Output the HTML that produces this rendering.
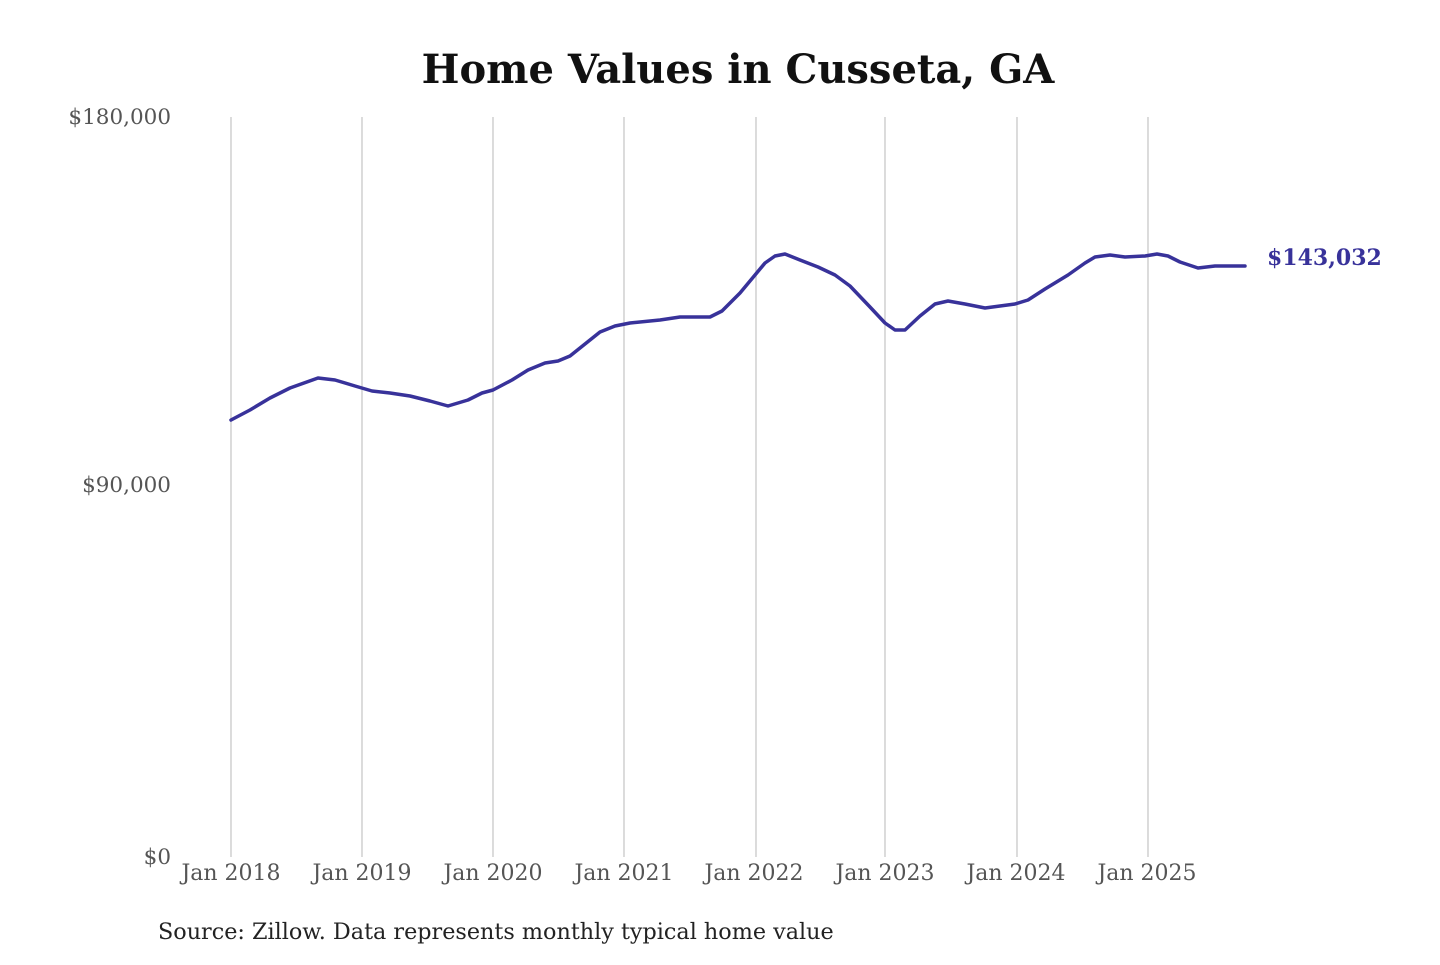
<!DOCTYPE html>
<html><head><meta charset="utf-8"><style>
html,body{margin:0;padding:0;background:#fff;}
svg text{font-family:"DejaVu Serif","Liberation Serif",serif;}
</style></head><body>
<svg width="1440" height="960" xmlns="http://www.w3.org/2000/svg">
<rect width="1440" height="960" fill="#fff"/>
<text x="738" y="83" text-anchor="middle" font-size="40" font-weight="bold" fill="#111">Home Values in Cusseta, GA</text>
<g stroke="#c8c8c8" stroke-width="1.3">
<line x1="231" y1="117" x2="231" y2="857"/>
<line x1="362" y1="117" x2="362" y2="857"/>
<line x1="493" y1="117" x2="493" y2="857"/>
<line x1="624" y1="117" x2="624" y2="857"/>
<line x1="756" y1="117" x2="756" y2="857"/>
<line x1="885" y1="117" x2="885" y2="857"/>
<line x1="1017" y1="117" x2="1017" y2="857"/>
<line x1="1148" y1="117" x2="1148" y2="857"/>
</g>
<g font-size="21.5" fill="#555" text-anchor="end">
<text x="171" y="124">$180,000</text>
<text x="171" y="492">$90,000</text>
<text x="171" y="864">$0</text>
</g>
<g font-size="22" fill="#555" text-anchor="middle">
<text x="231" y="880">Jan 2018</text>
<text x="362" y="880">Jan 2019</text>
<text x="493" y="880">Jan 2020</text>
<text x="624" y="880">Jan 2021</text>
<text x="754" y="880">Jan 2022</text>
<text x="885" y="880">Jan 2023</text>
<text x="1016" y="880">Jan 2024</text>
<text x="1147" y="880">Jan 2025</text>
</g>
<polyline fill="none" stroke="#38329a" stroke-width="3.5" stroke-linejoin="round" stroke-linecap="round" points="231,420 250,410 270,398 290,388 318,378 335,380 355,386 372,391 390,393 410,396 430,401 448,406 468,400 482,393 493,390 512,380 528,370 545,363 558,361 570,356 585,344 600,332 615,326 630,323 660,320 680,317 710,317 722,311 740,293 755,275 765,263 775,256 785,254 800,260 818,267 835,275 850,286 870,307 885,323 895,330 905,330 920,316 935,304 948,301 965,304 985,308 1000,306 1015,304 1028,300 1045,289 1068,275 1085,263 1095,257 1110,255 1125,257 1145,256 1157,254 1168,256 1180,262 1198,268 1215,266 1230,266 1245,266"/>
<text x="1267" y="265" font-size="22" font-weight="bold" fill="#38329a">$143,032</text>
<text x="158" y="939" font-size="22.3" fill="#222">Source: Zillow. Data represents monthly typical home value</text>
</svg>
</body></html>
